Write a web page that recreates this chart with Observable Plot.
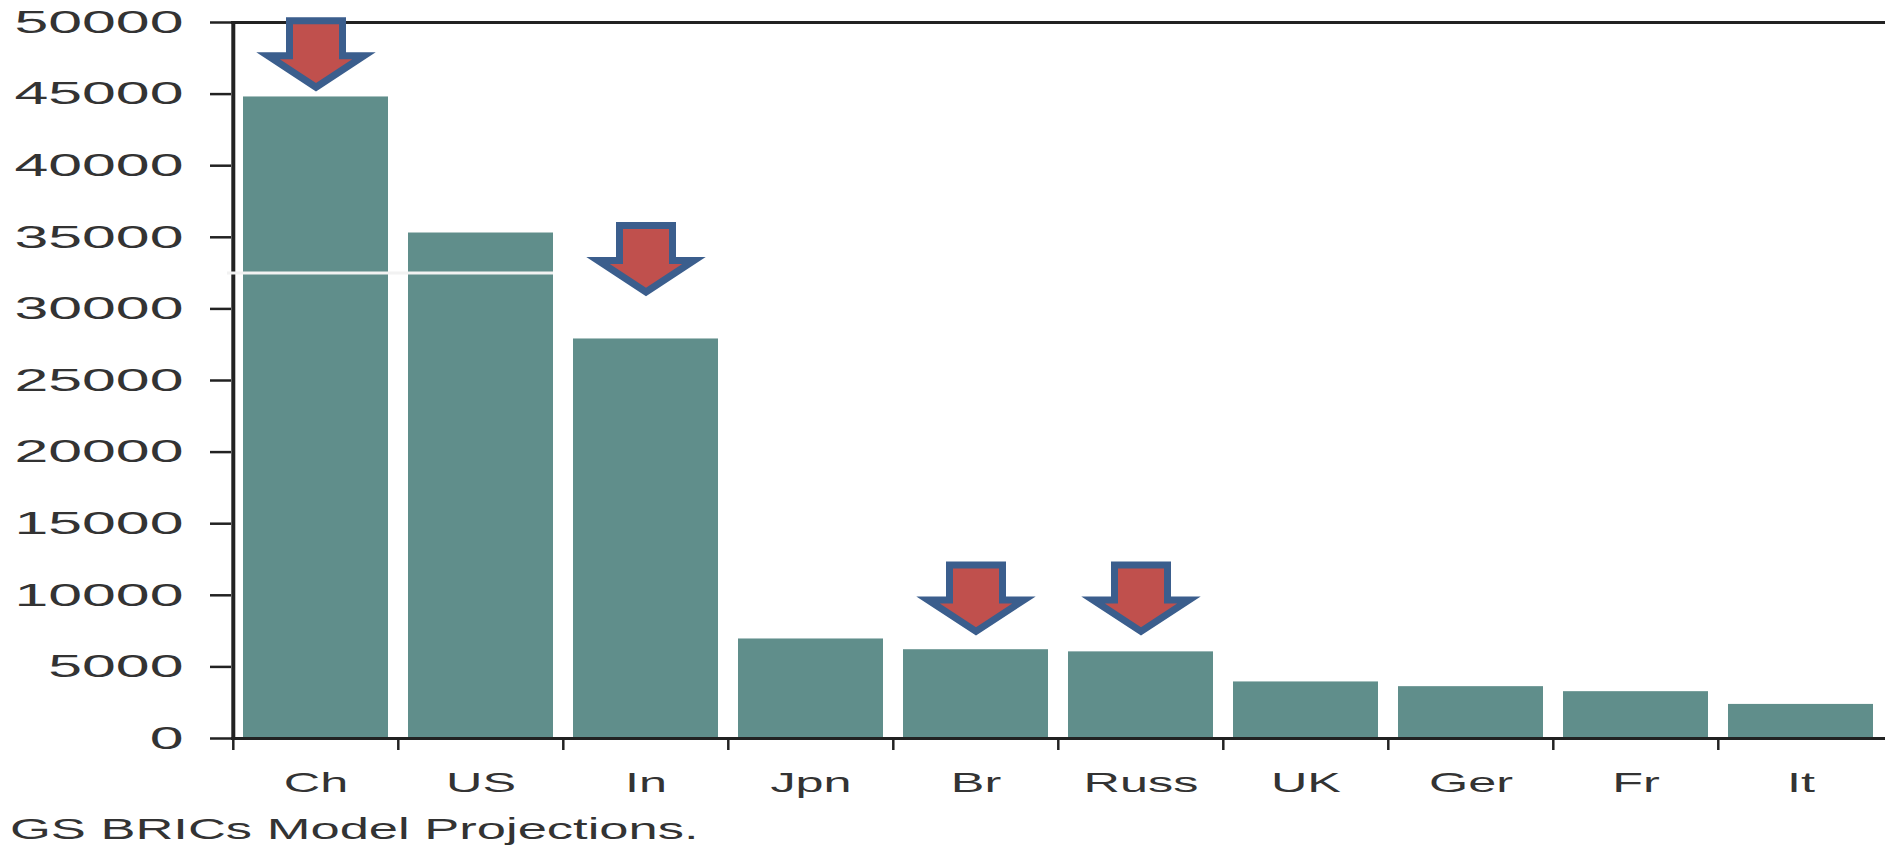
<!DOCTYPE html>
<html><head><meta charset="utf-8">
<script src="https://cdn.jsdelivr.net/npm/d3@7"></script>
<script src="https://cdn.jsdelivr.net/npm/@observablehq/plot@0.6"></script>
<style>
html,body{margin:0;padding:0;background:#fff;}
body{width:1885px;height:846px;overflow:hidden;position:relative;font-family:"Liberation Sans",Arial,sans-serif;}
#chart{position:absolute;left:0;top:0;}
#caption{position:absolute;left:10px;top:814px;font-size:30px;line-height:30px;color:#333;transform:scaleX(1.75);transform-origin:0 0;white-space:nowrap;}
</style></head><body>
<div id="chart"></div>
<div id="caption"></div>
<script>
// ---- data ----
const categories = ["Ch", "US", "In", "Jpn", "Br", "Russ", "UK", "Ger", "Fr", "It"];
const values = [44800, 35300, 27900, 6950, 6200, 6050, 3950, 3620, 3270, 2380];
const yTicks = [0, 5000, 10000, 15000, 20000, 25000, 30000, 35000, 40000, 45000, 50000];
const arrowCountries = ["Ch", "In", "Br", "Russ"];
const arrowTips = [45200, 30900, 7200, 7200];
const breakValue = 32500;
const breakCountries = ["Ch", "US"];
const captionText = "GS BRICs Model Projections.";

// ---- layout / style ----
const W = 1885, H = 800;
const mL = 231, mR = 0, mT = 22, mB = 62;
const step = (W - mL - mR) / categories.length;
const barColor = "#608e8b";
const arrowFill = "#c0504d";
const arrowStroke = "#3b5e8d";
const ink = "#222";
const font = "'Liberation Sans', Arial, sans-serif";

const bars = categories.map((c, i) => ({country: c, value: values[i]}));
const arrows = arrowCountries.map((c, i) => ({country: c, tip: arrowTips[i]}));

// down-arrow symbol, tip at the anchor point
const arrowSymbol = {
  draw(ctx) {
    ctx.moveTo(0, -4);
    ctx.lineTo(48, -35.5);
    ctx.lineTo(26.5, -35.5);
    ctx.lineTo(26.5, -70.5);
    ctx.lineTo(-26.5, -70.5);
    ctx.lineTo(-26.5, -35.5);
    ctx.lineTo(-48, -35.5);
    ctx.closePath();
  }
};

const plot = Plot.plot({
  width: W,
  height: H,
  marginLeft: mL,
  marginRight: mR,
  marginTop: mT,
  marginBottom: mB,
  style: {background: "#fff", fontFamily: font, color: "#333"},
  x: {type: "band", domain: categories, paddingInner: 0.12, paddingOuter: 0.06, label: null},
  y: {domain: [0, 50000], label: null},
  marks: [
    Plot.barY(bars, {x: "country", y: "value", fill: barColor}),
    Plot.ruleY([yTicks[0], yTicks[yTicks.length - 1]], {stroke: ink, strokeWidth: 3}),
    Plot.ruleX([categories[0]], {y1: yTicks[0], y2: yTicks[yTicks.length - 1], dx: -step / 2, stroke: ink, strokeWidth: 4}),
    Plot.ruleY([breakValue], {x1: () => breakCountries[0], x2: () => breakCountries[1], insetLeft: -16, stroke: "#f2f2f2", strokeWidth: 3}),
    Plot.axisY({ticks: yTicks, tickSize: 21, tickPadding: 27, tickFormat: d => String(d), fontSize: 32, fill: "#333", stroke: ink, strokeWidth: 2.5}),
    Plot.axisX({tickSize: 12, tickFormat: () => "", dx: -step / 2, stroke: ink, strokeWidth: 2.5}),
    Plot.axisX({tickSize: 0, tickPadding: 34, fontSize: 28, fill: "#333"}),
    Plot.dot(arrows, {x: "country", y: "tip", symbol: arrowSymbol, r: 10, fill: arrowFill, stroke: arrowStroke, strokeWidth: 7, strokeLinejoin: "miter"})
  ]
});

document.getElementById("chart").append(plot);
document.getElementById("caption").textContent = captionText;

// widen the tick labels like the (horizontally stretched) original
plot.querySelectorAll("text").forEach(t => {
  const s = t.textContent.trim();
  if (!s) return;
  const b = t.getBBox();
  let sx, ox;
  if (/^\d+$/.test(s)) { sx = 1.9; ox = b.x + b.width; }
  else { sx = 1.8; ox = b.x + b.width / 2; }
  const tr = t.getAttribute("transform") || "";
  t.setAttribute("transform", `${tr} translate(${ox},0) scale(${sx},1) translate(${-ox},0)`);
});
</script>
</body></html>
